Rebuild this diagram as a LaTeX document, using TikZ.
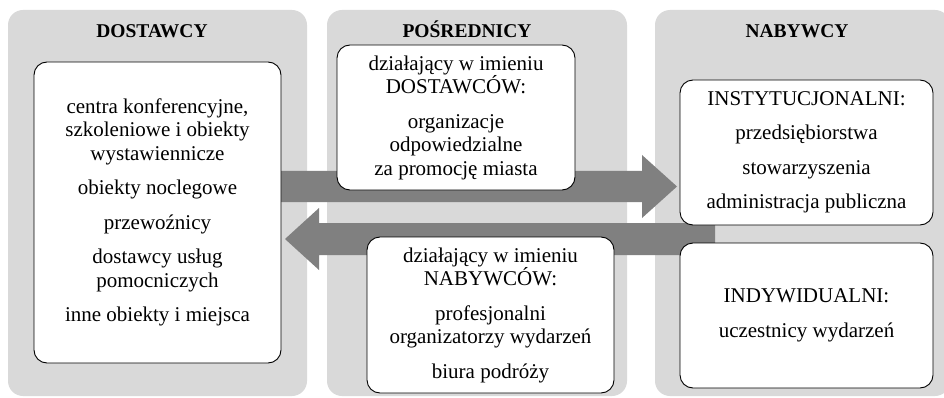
\documentclass[tikz,border=0pt]{standalone}
\usepackage{fontspec}
\setmainfont{Liberation Serif}
\begin{document}
\begin{tikzpicture}[x=1pt,y=-1pt,
  panel/.style={fill=panelgray, rounded corners=15pt},
  box/.style={draw=black, line width=0.9pt, fill=white, rounded corners=13pt,
    align=center, inner sep=0pt, font=\fontsize{21}{23.5}\selectfont},
  header/.style={anchor=base, font=\fontsize{19.5}{22}\selectfont\bfseries},
  flowarrow/.style={fill=arrowgray}]
\definecolor{panelgray}{HTML}{D9D9D9}
\definecolor{arrowgray}{HTML}{808080}
\useasboundingbox (0,0) rectangle (944,398);

% three columns
\fill[panel] (8,10) rectangle (307,396);
\fill[panel] (327,10) rectangle (627,396);
\fill[panel] (655,10) rectangle (950,396);

\node[header] (hsup) at (152,38) {DOSTAWCY};
\node[header] (hmid) at (467,38) {POŚREDNICY};
\node[header] (hbuy) at (797,38) {NABYWCY};

% flow arrows (drawn before the boxes, which sit on top of them)
\coordinate (ra0) at (270,186.5);
\coordinate (ra1) at (677,186.5);
\fill[flowarrow] (ra0) ++(0,-15.5) -- (642,171) -- (642,155) -- (ra1)
  -- (642,218) -- (642,202) -- (270,202) -- cycle;
\coordinate (la0) at (715,239);
\coordinate (la1) at (285,239);
\fill[flowarrow] (la0) ++(0,-16) -- (319,223) -- (319,208) -- (la1)
  -- (319,270) -- (319,255) -- (715,255) -- cycle;

% supplier box
\node[box, minimum width=247pt, minimum height=301pt] (sup) at (157.5,212.5)
  {centra konferencyjne,\\ szkoleniowe i obiekty\\ wystawiennicze\\[11pt]
   obiekty noclegowe\\[11pt] przewoźnicy\\[11pt]
   dostawcy usług\\ pomocniczych\\[11pt] inne obiekty i miejsca};

% intermediaries
\node[box, minimum width=238pt, minimum height=145pt] (midsup) at (456,117.5)
  {działający w imieniu\\ DOSTAWCÓW:\\[11pt]
   organizacje\\ odpowiedzialne\\ za promocję miasta};
\node[box, minimum width=247pt, minimum height=156pt] (midbuy) at (490.5,315)
  {działający w imieniu\\ NABYWCÓW:\\[11pt]
   profesjonalni\\ organizatorzy wydarzeń\\[11pt] biura podróży};

% buyers
\node[box, minimum width=253pt, minimum height=145pt] (inst) at (806.5,152.5)
  {INSTYTUCJONALNI:\\[11pt] przedsiębiorstwa\\[11pt]
   stowarzyszenia\\[11pt] administracja publiczna};
\node[box, minimum width=253pt, minimum height=145pt] (indiv) at (806.5,315.5)
  {INDYWIDUALNI:\\[11pt] uczestnicy wydarzeń};
\end{tikzpicture}
\end{document}
